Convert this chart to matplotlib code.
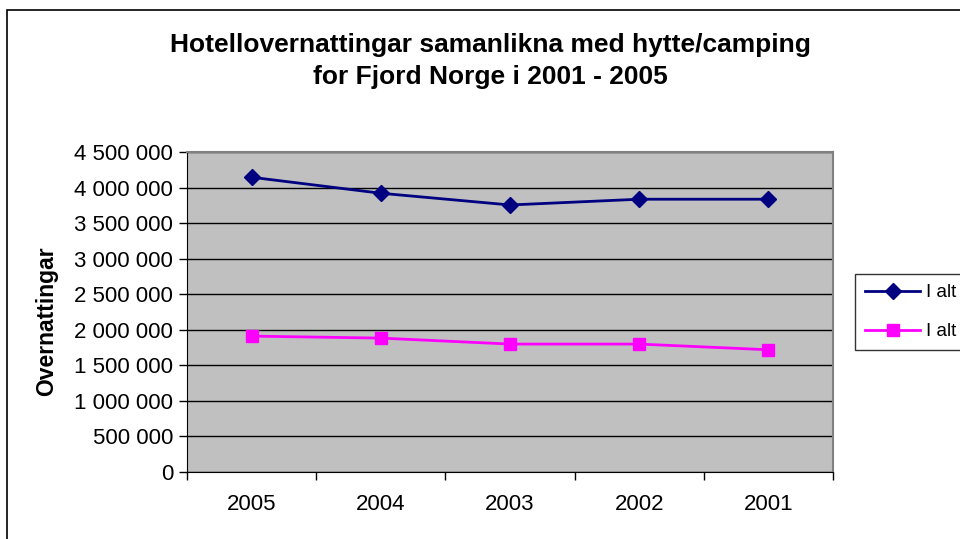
import matplotlib
matplotlib.use("Agg")
import matplotlib.pyplot as plt
from matplotlib.ticker import FuncFormatter, FixedLocator
from matplotlib.patches import Rectangle

# data
years = ["2005", "2004", "2003", "2002", "2001"]
hotell = [4145000, 3920000, 3755000, 3836000, 3836000]
hytte_camping = [1911000, 1883000, 1799000, 1799000, 1719000]
legend_labels = ["I alt", "I alt"]
title = "Hotellovernattingar samanlikna med hytte/camping\nfor Fjord Norge i 2001 - 2005"
ylabel = "Overnattingar"

plt.rcParams["font.family"] = ["Liberation Sans", "DejaVu Sans"]

fig = plt.figure(figsize=(9.6, 5.39), dpi=100)
ax = fig.add_axes([187 / 960, 1 - 472 / 539, (833 - 187) / 960, (472 - 152) / 539])

# chart area border (right and bottom run off the picture)
fig.patches.append(Rectangle((7 / 960, -0.1), 1.2, 1 - 10 / 539 + 0.1,
                             transform=fig.transFigure, fill=False,
                             edgecolor="black", linewidth=1.2))

ax.set_facecolor("#C0C0C0")
x = range(len(years))
l1, = ax.plot(x, hotell, color="#000080", marker="D", markersize=8,
              linewidth=2, label=legend_labels[0])
l2, = ax.plot(x, hytte_camping, color="#FF00FF", marker="s", markersize=8.5,
              linewidth=2, label=legend_labels[1])

ax.set_xlim(-0.5, len(years) - 0.5)
ax.set_ylim(0, 4500000)
ax.set_yticks(range(0, 4500001, 500000))
ax.yaxis.set_major_formatter(FuncFormatter(lambda v, p: f"{int(v):,}".replace(",", " ")))
ax.grid(axis="y", color="black", linewidth=1)
ax.set_axisbelow(True)

ax.set_xticks(list(x))
ax.set_xticklabels(years)
ax.xaxis.set_minor_locator(FixedLocator([i - 0.5 for i in range(len(years) + 1)]))
ax.tick_params(axis="x", which="major", length=0, pad=16, labelsize=16)
ax.tick_params(axis="x", which="minor", length=6, width=1, direction="out")
ax.tick_params(axis="y", length=6, width=1, direction="out", pad=4, labelsize=16)

for side in ["top", "right"]:
    ax.spines[side].set_color("#808080")
    ax.spines[side].set_linewidth(1.5)
ax.spines["left"].set_color("black")
ax.spines["bottom"].set_color("black")

fig.text(490 / 960, 1 - 61 / 539, title, ha="center", va="center",
         fontsize=19, fontweight="bold", linespacing=1.38)
fig.text(47 / 960, 1 - 321 / 539, ylabel, ha="center", va="center",
         rotation=90, fontsize=16.5, fontweight="bold")

leg = fig.legend(handles=[l1, l2], loc="upper left",
                 bbox_to_anchor=(855 / 960, 1 - 274 / 539),
                 fontsize=13.5, frameon=True, fancybox=False,
                 edgecolor="black", handlelength=2.9, handletextpad=0.35,
                 borderpad=0.55, labelspacing=1.15, borderaxespad=0)
leg.get_frame().set_linewidth(1)

fig.savefig("out.png", dpi=100)
plt.close()
